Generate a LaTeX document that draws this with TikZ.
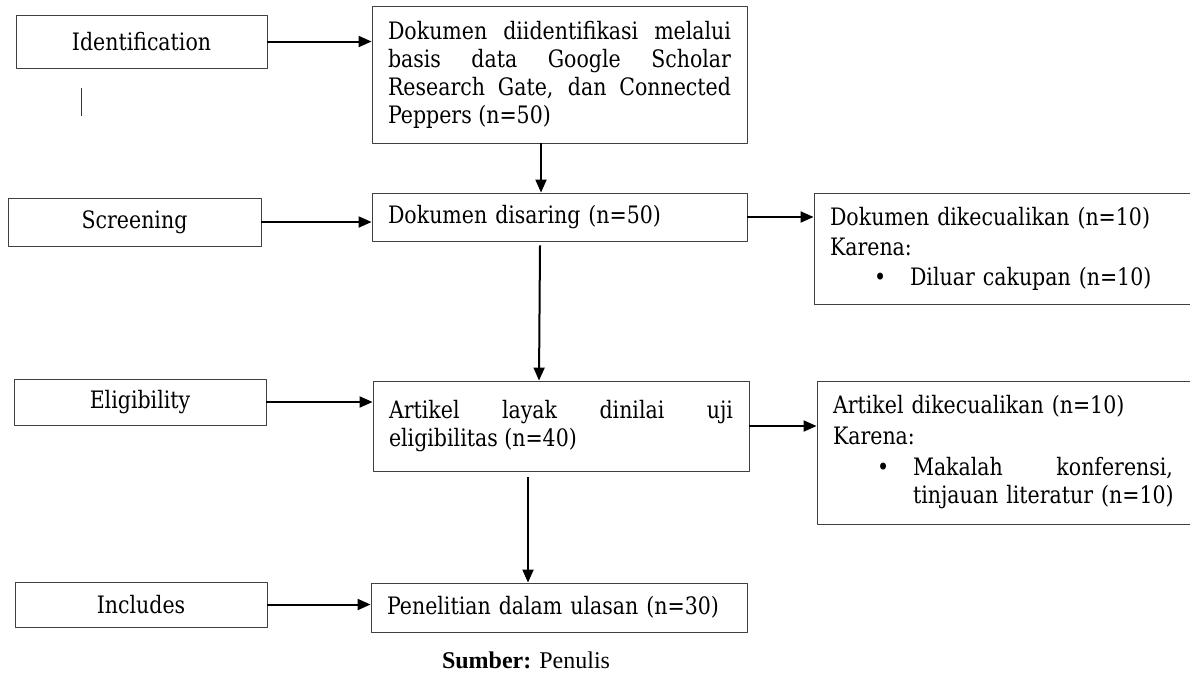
\documentclass[tikz,border=0pt]{standalone}
\usepackage{fontspec}
\newfontfamily\boxfont{DejaVu Serif}[FakeStretch=0.855]
\newfontfamily\capfont{Liberation Serif}
\usetikzlibrary{arrows.meta}

\tikzset{
  phase/.style={draw=black!75, line width=0.9pt, align=center,
    font=\boxfont\fontsize{24}{28}\selectfont, inner sep=0pt},
  record/.style={draw=black!75, line width=0.9pt, align=justify,
    font=\boxfont\fontsize{24}{28}\selectfont, inner xsep=16pt, inner ysep=0pt},
  arr/.style={line width=2pt, -{Triangle[length=13pt, width=11pt]}},
}

\begin{document}
\begin{tikzpicture}[x=1pt, y=-1pt, line join=round]
  \useasboundingbox (0,0) rectangle (1190,672);
  % Tahap (kolom kiri)
  \node[phase, minimum width=251pt, minimum height=53pt] (ident)  at (141.5,41.5) {Identification};
  \node[phase, minimum width=253pt, minimum height=48pt] (screen) at (134.5,222)  {Screening};
  \node[phase, minimum width=252pt, minimum height=46pt] (elig)   at (140,402)    {Eligibility};
  \node[phase, minimum width=252pt, minimum height=45pt] (incl)   at (141,604.5)  {Includes};
  % garis kecil di bawah Identification
  \draw[black!80, line width=0.8pt] (81,88) -- (81,116);
  % Dokumen (kolom tengah)
  \node[record, text width=343pt, minimum height=137pt] (found) at (559.5,74.5)
    {Dokumen diidentifikasi melalui\linebreak basis data Google Scholar\linebreak
     Research Gate, dan Connected\linebreak Peppers (n=50)};
  \node[record, align=left, text width=343pt, minimum height=48pt] (sieved) at (559.5,217)
    {Dokumen disaring (n=50)};
  \node[record, text width=344pt, minimum height=90pt] (eligible) at (561,426)
    {Artikel layak dinilai uji\linebreak eligibilitas (n=40)};
  \node[record, align=left, text width=344pt, minimum height=49pt] (review) at (559,607.5)
    {Penelitian dalam ulasan (n=30)};
  % Dikecualikan (kolom kanan)
  \node[record, align=left, text width=345pt, minimum height=111pt] (dropA) at (1002.5,248.5)
    {Dokumen dikecualikan (n=10)\\[2pt]
     Karena:\\[2pt]
     \hspace*{44pt}\makebox[36pt][l]{\textbullet}Diluar cakupan (n=10)};
  \node[record, align=left, text width=342pt, minimum height=143pt] (dropB) at (1004,452.5)
    {Artikel dikecualikan (n=10)\\[3pt]
     Karena:\\[3pt]
     \hspace*{44pt}\makebox[36pt][l]{\textbullet}\makebox[260pt][l]{Makalah\hfill konferensi,}\\
     \hspace*{80pt}tinjauan literatur (n=10)};
  % Panah
  \draw[arr] (ident.east) -- (ident.east -| found.west);
  \draw[arr] (screen.east) -- (screen.east -| sieved.west);
  \draw[arr] (elig.east) -- (elig.east -| eligible.west);
  \draw[arr] (incl.east) -- (incl.east -| review.west);
  \draw[arr] ([xshift=-18.5pt]found.south) -- ([xshift=-18.5pt]sieved.north);
  \draw[arr] ([xshift=-19.5pt, yshift=-4pt]sieved.south) -- ([xshift=-22pt]eligible.north);
  \draw[arr] ([xshift=-33pt, yshift=-6pt]eligible.south) -- ([xshift=-31pt]review.north);
  \draw[arr] (sieved.east) -- (sieved.east -| dropA.west);
  \draw[arr] (eligible.east) -- (eligible.east -| dropB.west);
  % Sumber
  \node[font=\capfont\fontsize{24}{28}\selectfont] (source) at (526,660) {\textbf{Sumber:} Penulis};
\end{tikzpicture}
\end{document}
